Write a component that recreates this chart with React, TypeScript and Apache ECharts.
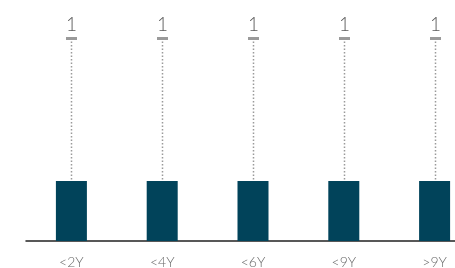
import React, { useEffect, useRef } from "react";
import * as echarts from "echarts";

const categories = ["<2Y", "<4Y", "<6Y", "<9Y", ">9Y"];
const values = [1, 1, 1, 1, 1];
const labelValues = [1, 1, 1, 1, 1];

const MARKER_LEVEL = 3.375;

export default function App() {
  const ref = useRef<HTMLDivElement>(null);
  useEffect(() => {
    if (!ref.current) return;
    const chart = echarts.init(ref.current, undefined, { renderer: "svg" });
    chart.setOption({
      animation: false,
      grid: { left: 26, top: 1, bottom: 27, right: 0, containLabel: false },
      xAxis: {
        type: "category",
        data: categories,
        axisLine: { show: true, lineStyle: { color: "#222", width: 1.5 } },
        axisTick: { show: false },
        axisLabel: {
          color: "#6a6a6a",
          fontSize: 14,
          fontWeight: 300,
          fontFamily: "Lato",
          margin: 13,
        },
      },
      yAxis: {
        type: "value",
        min: 0,
        max: 4,
        show: false,
        splitLine: { show: false },
      },
      series: [
        {
          type: "bar",
          data: values,
          barWidth: 31,
          itemStyle: { color: "#01435A" },
          z: 2,
        },
        {
          type: "custom",
          data: values.map((v, i) => [i, v, labelValues[i]]),
          z: 3,
          renderItem: (params: any, api: any) => {
            const i = api.value(0);
            const v = api.value(1);
            const lbl = api.value(2);
            const p0 = api.coord([i, v]);
            const p1 = api.coord([i, MARKER_LEVEL]);
            const x = Math.round(p0[0]) + 0.5;
            return {
              type: "group",
              children: [
                {
                  type: "line",
                  shape: { x1: x, y1: p1[1] + 3, x2: x, y2: p0[1] },
                  style: { stroke: "#9a9a9a", lineWidth: 1.5, lineDash: [1.5, 2] },
                },
                {
                  type: "rect",
                  shape: { x: x - 5.5, y: p1[1] - 1.5, width: 11, height: 3 },
                  style: { fill: "#9a9a9a" },
                },
                {
                  type: "text",
                  x: x,
                  y: p1[1] - 6,
                  style: {
                    text: String(lbl),
                    fill: "#5a5a5a",
                    font: "300 19px Lato",
                    align: "center",
                    verticalAlign: "bottom",
                  },
                },
              ],
            };
          },
        },
      ],
    });
    return () => chart.dispose();
  }, []);
  return (
    <div
      style={{
        position: "fixed",
        left: 0,
        top: 0,
        width: 455,
        height: 268,
        overflow: "hidden",
      }}
    >
      <div ref={ref} style={{ width: 480, height: 268 }} />
    </div>
  );
}
